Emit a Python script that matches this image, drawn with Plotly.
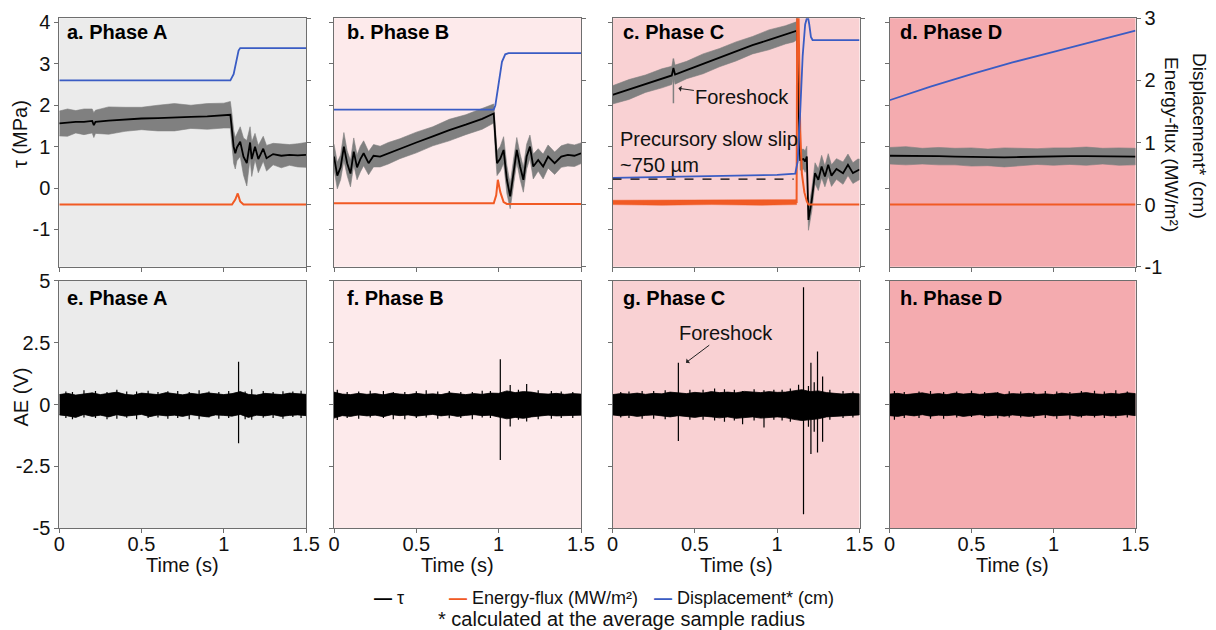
import plotly.graph_objects as go

W, H = 1216, 630
def X(px): return px / W
def Y(py): return 1 - py / H

COLS = [(59.3, 306.0), (334.0, 581.0), (612.5, 859.5), (889.5, 1135.5)]
TOP = (18.3, 266.7)
BOT = (280.7, 528.3)
BG = ["#ebebeb", "#fdeaeb", "#f9d1d3", "#f4abaf"]
FRAME = "#6e6e6e"
C_TAU = "#000000"
C_BAND = "#808080"
C_EF = "#f15a24"
C_DISP = "#3a5cc4"
FONT = "Liberation Sans, Arial, Helvetica, sans-serif"

top_titles = ["a. Phase A", "b. Phase B", "c. Phase C", "d. Phase D"]
bot_titles = ["e. Phase A", "f. Phase B", "g. Phase C", "h. Phase D"]
title_dx = [6, 11, 8, 8]
x_tick_vals = [0, 0.5, 1, 1.5]
x_tick_text = ["0", "0.5", "1", "1.5"]

# ---------------- shear stress tau (MPa) ----------------
a_t = [0, 0.05, 0.1, 0.15, 0.2, 0.21, 0.22, 0.3, 0.4, 0.5, 0.6, 0.7, 0.8, 0.9, 1.0, 1.04, 1.05, 1.06, 1.07,
       1.08, 1.1, 1.12, 1.14, 1.16, 1.17, 1.19, 1.21, 1.24, 1.26, 1.3, 1.35, 1.4, 1.45, 1.5]
a_tau = [1.56, 1.58, 1.6, 1.6, 1.62, 1.52, 1.6, 1.63, 1.66, 1.68, 1.69, 1.71, 1.72, 1.73, 1.75, 1.77, 1.4, 1.0,
         0.84, 0.98, 1.12, 0.76, 0.6, 1.1, 0.7, 1.0, 0.7, 0.95, 0.72, 0.82, 0.78, 0.8, 0.79, 0.8]
a_hw = [0.3, 0.33, 0.27, 0.31, 0.29, 0.3, 0.28, 0.33, 0.29, 0.27, 0.31, 0.33, 0.28, 0.31, 0.3, 0.32, 0.38, 0.4,
        0.38, 0.32, 0.36, 0.45, 0.55, 0.38, 0.42, 0.32, 0.33, 0.3, 0.31, 0.26, 0.29, 0.25, 0.28, 0.3]

b_t = [0, 0.02, 0.04, 0.06, 0.08, 0.1, 0.12, 0.14, 0.16, 0.18, 0.21, 0.24, 0.28, 0.33, 0.4, 0.5, 0.6, 0.7, 0.8,
       0.9, 0.97, 0.98, 0.99, 1.01, 1.03, 1.05, 1.07, 1.09, 1.11, 1.13, 1.15, 1.17, 1.19, 1.21, 1.24, 1.27,
       1.3, 1.34, 1.38, 1.42, 1.46, 1.5]
b_tau = [0.76, 0.3, 0.5, 1.0, 0.6, 0.35, 0.88, 0.5, 0.7, 0.84, 0.6, 0.78, 0.76, 0.84, 0.95, 1.1, 1.25, 1.4,
         1.53, 1.67, 1.8, 1.16, 0.6, 0.71, 0.92, 0.2, -0.2, 0.36, 0.92, 0.52, 0.2, 0.76, 1.0, 0.52, 0.68, 0.52,
         0.76, 0.6, 0.76, 0.8, 0.78, 0.84]
b_hw = [0.3, 0.32, 0.3, 0.34, 0.3, 0.32, 0.33, 0.3, 0.31, 0.3, 0.28, 0.27, 0.25, 0.26, 0.24, 0.25, 0.23, 0.26,
        0.24, 0.25, 0.23, 0.3, 0.3, 0.3, 0.32, 0.34, 0.3, 0.32, 0.3, 0.31, 0.3, 0.3, 0.28, 0.3, 0.27, 0.3, 0.28,
        0.27, 0.26, 0.27, 0.26, 0.25]

c_t = [0, 0.1, 0.2, 0.3, 0.36, 0.37, 0.38, 0.45, 0.55, 0.65, 0.75, 0.85, 0.95, 1.05, 1.1, 1.12, 1.13, 1.14,
       1.16, 1.17, 1.18, 1.19, 1.21, 1.23, 1.25, 1.27, 1.29, 1.31, 1.33, 1.36, 1.4, 1.43, 1.46, 1.49, 1.5]
c_tau = [2.25, 2.38, 2.52, 2.65, 2.72, 2.9, 2.74, 2.85, 3.0, 3.15, 3.3, 3.45, 3.58, 3.7, 3.76, 3.8, 2.0, 0.68,
         0.7, 0.64, 0.76, -0.77, -0.29, 0.36, 0.2, 0.52, 0.28, 0.56, 0.3, 0.46, 0.36, 0.56, 0.36, 0.44, 0.45]
c_hw = [0.22, 0.24, 0.21, 0.23, 0.22, 0.22, 0.23, 0.21, 0.24, 0.22, 0.23, 0.21, 0.24, 0.22, 0.23, 0.22, 0.25,
        0.25, 0.24, 0.26, 0.25, 0.25, 0.27, 0.25, 0.26, 0.27, 0.25, 0.27, 0.26, 0.25, 0.27, 0.26, 0.25, 0.26, 0.25]

d_t = [0, 0.1, 0.2, 0.3, 0.4, 0.5, 0.6, 0.7, 0.8, 0.9, 1.0, 1.1, 1.2, 1.3, 1.4, 1.5]
d_tau = [0.78, 0.78, 0.77, 0.77, 0.76, 0.75, 0.74, 0.74, 0.75, 0.76, 0.76, 0.77, 0.77, 0.77, 0.76, 0.76]
d_hw = [0.2, 0.22, 0.19, 0.21, 0.2, 0.22, 0.2, 0.23, 0.21, 0.19, 0.21, 0.2, 0.22, 0.19, 0.21, 0.2]

# grey noise spikes on tau (foreshock and mainshock), panel c
c_gs_t = [0.37, 1.12]
c_gs_lo = [2.05, 3.5]
c_gs_hi = [3.13, 4.3]

# ---------------- energy flux (MW/m^2) ----------------
a_ef_t = [0, 1.05, 1.07, 1.085, 1.1, 1.12, 1.5]
a_ef = [0.0, 0.0, 0.08, 0.18, 0.05, 0.0, 0.0]
b_ef_t = [0, 0.97, 0.985, 0.995, 1.01, 1.03, 1.05, 1.5]
b_ef = [0.02, 0.02, 0.15, 0.4, 0.2, 0.04, 0.01, 0.01]
c_ef_t = [0, 1.118, 1.122, 1.128, 1.14, 1.15, 1.165, 1.18, 1.19, 1.5]
c_ef = [0.04, 0.04, 3.4, 3.4, 1.2, 0.5, 0.2, 0.05, 0.0, 0.0]
d_ef_t = [0, 1.5]
d_ef = [0.0, 0.0]
# noise envelope of the energy flux before the mainshock, panel c
c_efn_t = [0, 0.3, 0.6, 0.9, 1.118]
c_efn_hi = [0.07, 0.075, 0.07, 0.075, 0.08]
c_efn_lo = [0.0, -0.01, 0.0, -0.01, 0.0]

# ---------------- displacement (cm) ----------------
a_dp_t = [0, 1.04, 1.06, 1.08, 1.09, 1.1, 1.5]
a_dp = [2.0, 2.0, 2.1, 2.35, 2.48, 2.52, 2.52]
b_dp_t = [0, 0.97, 0.98, 1.0, 1.02, 1.04, 1.06, 1.5]
b_dp = [1.53, 1.53, 1.6, 1.95, 2.3, 2.42, 2.44, 2.44]
c_dp_t = [0, 0.5, 1.0, 1.11, 1.125, 1.14, 1.155, 1.17, 1.185, 1.195, 1.205, 1.215, 1.5]
c_dp = [0.43, 0.45, 0.48, 0.5, 0.7, 1.5, 2.4, 2.9, 3.05, 2.9, 2.7, 2.65, 2.65]
d_dp_t = [0, 0.25, 0.5, 0.75, 1.0, 1.25, 1.5]
d_dp = [1.68, 1.9, 2.1, 2.29, 2.46, 2.63, 2.8]
# precursory slow slip baseline (dashed)
c_slow_t = [0, 1.1]
c_slow = [0.41, 0.41]

# ---------------- acoustic emission (V) ----------------
ae_t = [0, 0.05, 0.1, 0.15, 0.2, 0.25, 0.3, 0.35, 0.4, 0.45, 0.5, 0.55, 0.6, 0.65, 0.7, 0.75, 0.8, 0.85, 0.9,
        0.95, 1.0, 1.05, 1.1, 1.15, 1.2, 1.25, 1.3, 1.35, 1.4, 1.45, 1.5]
e_hi = [0.40, 0.45, 0.38, 0.42, 0.47, 0.40, 0.44, 0.50, 0.41, 0.38, 0.46, 0.43, 0.40, 0.48, 0.42, 0.39, 0.45,
        0.41, 0.47, 0.43, 0.40, 0.44, 0.52, 0.41, 0.38, 0.45, 0.42, 0.40, 0.46, 0.43, 0.41]
e_lo = [-0.42, -0.46, -0.52, -0.40, -0.48, -0.43, -0.50, -0.41, -0.47, -0.44, -0.40, -0.49, -0.42, -0.46, -0.43,
        -0.48, -0.41, -0.45, -0.50, -0.42, -0.44, -0.47, -0.40, -0.52, -0.43, -0.46, -0.41, -0.48, -0.44, -0.42, -0.45]
f_hi = [0.5, 0.42, 0.40, 0.45, 0.41, 0.44, 0.39, 0.46, 0.42, 0.40, 0.45, 0.41, 0.43, 0.40, 0.47, 0.42, 0.40,
        0.44, 0.41, 0.46, 0.45, 0.55, 0.48, 0.52, 0.5, 0.44, 0.42, 0.45, 0.41, 0.44, 0.42]
f_lo = [-0.55, -0.45, -0.48, -0.42, -0.46, -0.43, -0.49, -0.41, -0.45, -0.42, -0.47, -0.43, -0.40, -0.46, -0.42,
        -0.48, -0.44, -0.41, -0.45, -0.43, -0.5, -0.58, -0.52, -0.56, -0.5, -0.45, -0.43, -0.46, -0.42, -0.44, -0.43]
g_hi = [0.40, 0.44, 0.42, 0.46, 0.41, 0.45, 0.43, 0.50, 0.47, 0.44, 0.49, 0.46, 0.52, 0.48, 0.5, 0.47, 0.53,
        0.5, 0.48, 0.52, 0.49, 0.5, 0.55, 0.6, 0.52, 0.55, 0.48, 0.45, 0.42, 0.45, 0.43]
g_lo = [-0.42, -0.46, -0.43, -0.48, -0.44, -0.42, -0.47, -0.5, -0.45, -0.48, -0.52, -0.47, -0.5, -0.54, -0.5,
        -0.56, -0.52, -0.5, -0.55, -0.52, -0.5, -0.53, -0.6, -0.65, -0.6, -0.58, -0.5, -0.47, -0.45, -0.44, -0.42]
h_hi = [0.42, 0.45, 0.40, 0.43, 0.47, 0.41, 0.44, 0.40, 0.46, 0.42, 0.45, 0.41, 0.43, 0.47, 0.40, 0.44, 0.42,
        0.45, 0.41, 0.43, 0.40, 0.46, 0.42, 0.44, 0.48, 0.43, 0.41, 0.45, 0.42, 0.47, 0.44]
h_lo = [-0.45, -0.48, -0.42, -0.46, -0.41, -0.47, -0.43, -0.45, -0.42, -0.48, -0.44, -0.41, -0.46, -0.43, -0.47,
        -0.42, -0.45, -0.48, -0.43, -0.41, -0.46, -0.44, -0.42, -0.47, -0.43, -0.45, -0.42, -0.46, -0.44, -0.41, -0.45]

# AE spikes (time, positive peak, negative peak)
e_sp_t = [0.04, 0.08, 0.15, 0.22, 0.29, 0.35, 0.41, 0.47, 0.54, 0.6, 0.66, 0.72, 0.79, 0.85, 0.91, 0.97,
          1.03, 1.09, 1.13, 1.17, 1.24, 1.3, 1.36, 1.42, 1.47]
e_sp_hi = [0.52, 0.5, 0.58, 0.55, 0.5, 0.6, 0.53, 0.52, 0.56, 0.5, 0.54, 0.55, 0.5, 0.58, 0.53, 0.5,
           0.55, 1.73, 0.52, 0.62, 0.55, 0.5, 0.54, 0.52, 0.56]
e_sp_lo = [-0.55, -0.6, -0.52, -0.55, -0.6, -0.58, -0.54, -0.6, -0.55, -0.52, -0.58, -0.55, -0.6, -0.6,
           -0.53, -0.58, -0.55, -1.56, -0.6, -0.62, -0.54, -0.55, -0.58, -0.5, -0.55]
f_sp_t = [0.02, 0.08, 0.15, 0.22, 0.3, 0.36, 0.43, 0.5, 0.56, 0.63, 0.7, 0.77, 0.84, 0.9, 0.95, 1.01, 1.07,
          1.12, 1.17, 1.24, 1.32, 1.38, 1.45]
f_sp_hi = [0.6, 0.5, 0.52, 0.56, 0.55, 0.5, 0.5, 0.54, 0.58, 0.52, 0.55, 0.5, 0.5, 0.56, 0.55, 1.83, 0.79,
           0.6, 0.83, 0.58, 0.55, 0.52, 0.5]
f_sp_lo = [-0.63, -0.55, -0.58, -0.52, -0.55, -0.6, -0.6, -0.55, -0.52, -0.58, -0.56, -0.55, -0.6, -0.52,
           -0.55, -2.24, -0.89, -0.62, -0.69, -0.6, -0.58, -0.55, -0.55]
g_sp_t = [0.05, 0.1, 0.18, 0.25, 0.32, 0.4, 0.47, 0.55, 0.62, 0.68, 0.74, 0.79, 0.86, 0.92, 0.98, 1.03, 1.08,
          1.13, 1.16, 1.19, 1.205, 1.225, 1.245, 1.276, 1.32, 1.4, 1.46]
g_sp_hi = [0.5, 0.52, 0.55, 0.55, 0.58, 1.69, 0.6, 0.6, 0.65, 0.62, 0.6, 0.55, 0.62, 0.58, 0.6, 0.6, 0.65,
           0.8, 4.74, 0.75, 1.69, 0.9, 2.14, 1.13, 0.6, 0.55, 0.52]
g_sp_lo = [-0.52, -0.55, -0.58, -0.58, -0.6, -1.47, -0.62, -0.62, -0.65, -0.7, -0.65, -0.8, -0.65, -0.93,
           -0.62, -0.65, -0.7, -0.6, -4.43, -0.9, -2.0, -1.1, -1.94, -1.5, -0.62, -0.55, -0.52]
h_sp_t = [0.03, 0.09, 0.18, 0.25, 0.33, 0.41, 0.5, 0.58, 0.66, 0.73, 0.8, 0.88, 0.95, 1.02, 1.1, 1.17, 1.25,
          1.31, 1.38, 1.45]
h_sp_hi = [0.55, 0.5, 0.52, 0.55, 0.5, 0.53, 0.56, 0.5, 0.5, 0.54, 0.52, 0.5, 0.55, 0.52, 0.5, 0.55, 0.56,
           0.52, 0.58, 0.53]
h_sp_lo = [-0.62, -0.55, -0.55, -0.58, -0.58, -0.52, -0.5, -0.55, -0.56, -0.53, -0.52, -0.55, -0.55, -0.58,
           -0.6, -0.52, -0.52, -0.55, -0.55, -0.52]

TAU = [(a_t, a_tau, a_hw), (b_t, b_tau, b_hw), (c_t, c_tau, c_hw), (d_t, d_tau, d_hw)]
EF = [(a_ef_t, a_ef), (b_ef_t, b_ef), (c_ef_t, c_ef), (d_ef_t, d_ef)]
DP = [(a_dp_t, a_dp), (b_dp_t, b_dp), (c_dp_t, c_dp), (d_dp_t, d_dp)]
AE = [(e_hi, e_lo, e_sp_t, e_sp_hi, e_sp_lo), (f_hi, f_lo, f_sp_t, f_sp_hi, f_sp_lo),
      (g_hi, g_lo, g_sp_t, g_sp_hi, g_sp_lo), (h_hi, h_lo, h_sp_t, h_sp_hi, h_sp_lo)]


def seg(ts, lo, hi):
    xs, ys = [], []
    for t, l, h in zip(ts, lo, hi):
        xs += [t, t, None]
        ys += [l, h, None]
    return xs, ys


fig = go.Figure()

def ax(n):
    return "" if n == 1 else str(n)

for i in range(4):
    n = i + 1
    xa, ya, yr = "x" + ax(n), "y" + ax(n), "y" + str(n + 8)
    t, tau, hw = TAU[i]
    hi = [v + w for v, w in zip(tau, hw)]
    lo = [v - w for v, w in zip(tau, hw)]
    fig.add_trace(go.Scatter(x=t + t[::-1], y=hi + lo[::-1], fill="toself", fillcolor=C_BAND,
                             line=dict(width=0.6, color=C_BAND), mode="lines", showlegend=False,
                             xaxis=xa, yaxis=ya, hoverinfo="skip"))
    if i == 2:
        gx, gy = seg(c_gs_t, c_gs_lo, c_gs_hi)
        fig.add_trace(go.Scatter(x=gx, y=gy, mode="lines", line=dict(color=C_BAND, width=1.5),
                                 showlegend=False, xaxis=xa, yaxis=ya))
    fig.add_trace(go.Scatter(x=t, y=tau, mode="lines", line=dict(color=C_TAU, width=1.8),
                             name="τ", showlegend=False, xaxis=xa, yaxis=ya))
    if i == 2:
        fig.add_trace(go.Scatter(x=c_efn_t + c_efn_t[::-1], y=c_efn_hi + c_efn_lo[::-1], fill="toself",
                                 fillcolor=C_EF, line=dict(width=0.5, color=C_EF), mode="lines",
                                 showlegend=False, xaxis=xa, yaxis=yr, hoverinfo="skip"))
    et, ev = EF[i]
    fig.add_trace(go.Scatter(x=et, y=ev, mode="lines", line=dict(color=C_EF, width=2),
                             name="Energy-flux (MW/m²)", showlegend=False, xaxis=xa, yaxis=yr))
    dt, dv = DP[i]
    fig.add_trace(go.Scatter(x=dt, y=dv, mode="lines", line=dict(color=C_DISP, width=1.8),
                             name="Displacement* (cm)", showlegend=False, xaxis=xa, yaxis=yr))
    if i == 2:
        fig.add_trace(go.Scatter(x=c_slow_t, y=c_slow, mode="lines",
                                 line=dict(color="#000000", width=1.2, dash="dash"),
                                 showlegend=False, xaxis=xa, yaxis=yr))

    # bottom row
    m = i + 5
    xb, yb = "x" + str(m), "y" + str(m)
    hi_, lo_, st, sh, sl = AE[i]
    fig.add_trace(go.Scatter(x=ae_t + ae_t[::-1], y=hi_ + lo_[::-1], fill="toself", fillcolor="#000000",
                             line=dict(width=0.8, color="#000000"), mode="lines", showlegend=False,
                             xaxis=xb, yaxis=yb, hoverinfo="skip"))
    sx, sy = seg(st, sl, sh)
    fig.add_trace(go.Scatter(x=sx, y=sy, mode="lines", line=dict(color="#000000", width=1.2),
                             showlegend=False, xaxis=xb, yaxis=yb))

axis_common = dict(showgrid=False, zeroline=False, showline=True, linecolor=FRAME, linewidth=1,
                   ticks="outside", ticklen=4, tickcolor=FRAME, tickwidth=1, automargin=False,
                   tickfont=dict(family=FONT, size=20, color="#111111"))
layout = {}
shapes = []
annotations = []
tf = dict(family=FONT, size=20, color="#111111")
lf = dict(family=FONT, size=18, color="#111111")
for i in range(4):
    n = i + 1
    c0, c1 = COLS[i]
    dom_x = [X(c0), X(c1)]
    layout["xaxis" + ax(n)] = dict(axis_common, domain=dom_x, anchor="y" + ax(n), range=[0, 1.5],
                                   tickvals=x_tick_vals, showticklabels=False, mirror=True)
    layout["yaxis" + ax(n)] = dict(axis_common, domain=[Y(TOP[1]), Y(TOP[0])], anchor="x" + ax(n),
                                   range=[-1.9, 4.1], tickvals=[-1, 0, 1, 2, 3, 4],
                                   ticktext=["-1", "0", "1", "2", "3", "4"], showticklabels=(i == 0))
    layout["yaxis" + str(n + 8)] = dict(axis_common, overlaying="y" + ax(n), side="right", anchor="x" + ax(n),
                                        range=[-1, 3], tickvals=[-1, 0, 1, 2, 3],
                                        ticktext=["-1", "0", "1", "2", "3"], showticklabels=(i == 3))
    m = i + 5
    layout["xaxis" + str(m)] = dict(axis_common, domain=dom_x, anchor="y" + str(m), range=[0, 1.5],
                                    tickvals=x_tick_vals, ticktext=x_tick_text, ticklabelstandoff=-6,
                                    mirror=True)
    layout["yaxis" + str(m)] = dict(axis_common, domain=[Y(BOT[1]), Y(BOT[0])], anchor="x" + str(m),
                                    range=[-5, 5], tickvals=[-5, -2.5, 0, 2.5, 5],
                                    ticktext=["-5", "-2.5", "0", "2.5", "5"], showticklabels=(i == 0),
                                    mirror=True)
    for (xr, yr, col) in [("x" + ax(n), "y" + ax(n), BG[i]), ("x" + str(m), "y" + str(m), BG[i])]:
        shapes.append(dict(type="rect", xref=xr + " domain", yref=yr + " domain", x0=0, x1=1, y0=0, y1=1,
                           fillcolor=col, line=dict(width=0), layer="below"))
    annotations.append(dict(text="<b>" + top_titles[i] + "</b>", xref="paper", yref="paper",
                            x=X(c0 + title_dx[i]), y=Y(31.7), xanchor="left", yanchor="middle",
                            showarrow=False, font=dict(family=FONT, size=20, color="#000000")))
    annotations.append(dict(text="<b>" + bot_titles[i] + "</b>", xref="paper", yref="paper",
                            x=X(c0 + title_dx[i]), y=Y(298.3), xanchor="left", yanchor="middle",
                            showarrow=False, font=dict(family=FONT, size=20, color="#000000")))
    annotations.append(dict(text="Time (s)", xref="x" + str(m) + " domain", yref="paper", x=0.5, y=Y(565),
                            xanchor="center", yanchor="middle", showarrow=False, font=tf))

annotations += [
    dict(text="τ (MPa)", xref="paper", yref="paper", x=X(20), y=Y(134), textangle=-90,
         showarrow=False, font=tf, xanchor="center", yanchor="middle"),
    dict(text="AE (V)", xref="paper", yref="paper", x=X(20), y=Y(397.5), textangle=-90,
         showarrow=False, font=tf, xanchor="center", yanchor="middle"),
    dict(text="Displacement* (cm)", xref="paper", yref="paper", x=X(1200), y=Y(136), textangle=90,
         showarrow=False, font=dict(family=FONT, size=19, color="#111111"), xanchor="center", yanchor="middle"),
    dict(text="Energy-flux (MW/m²)", xref="paper", yref="paper", x=X(1171), y=Y(144), textangle=90,
         showarrow=False, font=dict(family=FONT, size=19, color="#111111"), xanchor="center", yanchor="middle"),
    # panel c annotations
    dict(text="Foreshock", xref="x3", yref="y3", x=0.40, y=2.41, ax=64, ay=9, showarrow=True,
         arrowhead=1, arrowsize=1, arrowwidth=1, arrowcolor="#222222", font=tf),
    dict(text="Precursory slow slip<br>~750 µm", xref="x3", yref="y3", x=0.033, y=0.88,
         xanchor="left", yanchor="middle", align="left", showarrow=False, font=tf),
    dict(text="Foreshock", xref="x7", yref="y7", x=0.446, y=1.69, ax=40, ay=-30, showarrow=True,
         arrowhead=1, arrowsize=1, arrowwidth=1, arrowcolor="#222222", font=tf),
    # legend
    dict(text="<span style='color:#000000'><b>—</b></span> τ", xref="paper", yref="paper", x=X(372), y=Y(598),
         xanchor="left", yanchor="middle", showarrow=False, font=lf),
    dict(text="<span style='color:" + C_EF + "'><b>—</b></span> Energy-flux (MW/m²)", xref="paper",
         yref="paper", x=X(447), y=Y(598), xanchor="left", yanchor="middle", showarrow=False, font=lf),
    dict(text="<span style='color:" + C_DISP + "'><b>—</b></span> Displacement* (cm)", xref="paper",
         yref="paper", x=X(652), y=Y(598), xanchor="left", yanchor="middle", showarrow=False, font=lf),
    dict(text="* calculated at the average sample radius", xref="paper", yref="paper", x=X(621), y=Y(619),
         xanchor="center", yanchor="middle", showarrow=False, font=tf),
]

fig.update_layout(width=W, height=H, margin=dict(l=0, r=0, t=0, b=0), paper_bgcolor="white",
                  plot_bgcolor="rgba(0,0,0,0)", showlegend=False, shapes=shapes, annotations=annotations,
                  font=dict(family=FONT), **layout)
fig.write_html("out.html")
